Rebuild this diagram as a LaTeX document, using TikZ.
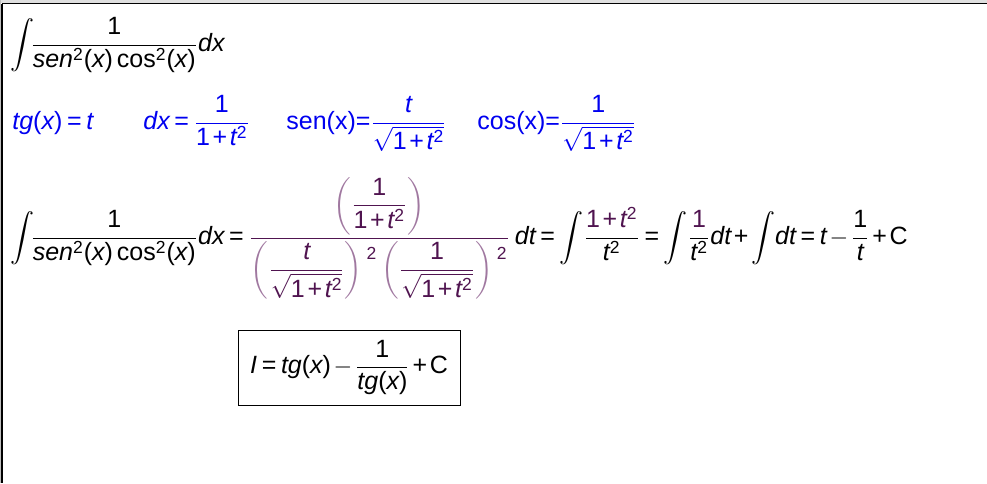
\documentclass[tikz,border=0pt]{standalone}
\usepackage{amsmath}
\usepackage[no-math]{fontspec}
\setmainfont{Liberation Sans}
% digits, signs and letters in math from the main font
\DeclareSymbolFont{operators}{TU}{\rmdefault}{m}{n}
\DeclareSymbolFont{sansit}{TU}{\rmdefault}{m}{it}
\DeclareMathSymbol{d}{\mathalpha}{sansit}{`d}
\DeclareMathSymbol{e}{\mathalpha}{sansit}{`e}
\DeclareMathSymbol{g}{\mathalpha}{sansit}{`g}
\DeclareMathSymbol{n}{\mathalpha}{sansit}{`n}
\DeclareMathSymbol{s}{\mathalpha}{sansit}{`s}
\DeclareMathSymbol{t}{\mathalpha}{sansit}{`t}
\DeclareMathSymbol{x}{\mathalpha}{sansit}{`x}
\DeclareMathSymbol{I}{\mathalpha}{sansit}{`I}
\DeclareMathSymbol{C}{\mathalpha}{operators}{`C}
\thickmuskip=3.5mu\relax
\medmuskip=2mu\relax
\definecolor{substblue}{RGB}{0,0,240}
\definecolor{fracpurple}{RGB}{80,20,80}
\definecolor{parenpurple}{RGB}{160,120,160}
\tikzset{
  formula/.style={inner sep=0pt, anchor=base west, font=\fontsize{12.5}{15}\selectfont},
  result/.style={draw, line width=0.5pt, inner sep=0pt, minimum width=111pt, minimum height=37.5pt,
    font=\fontsize{12.5}{15}\selectfont}
}
\newcommand{\pfrac}[2]{\color{parenpurple}\left(\color{fracpurple}\dfrac{#1}{#2}\color{parenpurple}\right)}
\newcommand{\upsq}{^{\raisebox{5pt}{\color{fracpurple}$\scriptstyle 2$}}}
\begin{document}
\begin{tikzpicture}[x=0.5pt,y=-0.5pt]
\useasboundingbox (0,0) rectangle (987,483);

% window frame
\fill[gray!25] (0,0) rectangle (987,3);
\fill[gray!50] (0,0) rectangle (1,483);
\draw[line width=0.6pt] (2,3.5) -- (987,3.5);
\draw[line width=0.6pt] (2,3.5) -- (2,483);

\node[formula] (integral) at (10,51) {$\displaystyle\int\!\!\frac{1}{sen^2(x)\cos^2(x)}dx$};

\node[formula,text=substblue] (tsub) at (12,129) {$tg(x)=t$};
\node[formula,text=substblue] (dxsub) at (143,129) {$\displaystyle dx=\frac{1}{1+t^2}$};
\node[formula,text=substblue] (sensub) at (286,129) {$\displaystyle\text{sen(x)=}\frac{t}{\sqrt{1+t^2}}$};
\node[formula,text=substblue] (cossub) at (477,129) {$\displaystyle\text{cos(x)=}\frac{1}{\sqrt{1+t^2}}$};

\node[formula] (lhs) at (10,244) {$\displaystyle\int\!\!\frac{1}{sen^2(x)\cos^2(x)}dx=
  {\color{fracpurple}\frac{\pfrac{1}{1+t^2}}{\pfrac{t}{\sqrt{1+t^2}}\upsq\pfrac{1}{\sqrt{1+t^2}}\upsq}}$};
\node[formula] (rhs) at ([xshift=2pt]lhs.base east) {$\displaystyle dt=\int\!\frac{\color{fracpurple}1+t^2}{t^2}=\int\!\frac{\color{fracpurple}1}{t^2}dt+\int\! dt=t-\frac{1}{t}+C$};

\node[result] (answer) at (349,367.5) {$\displaystyle I=tg(x)-\frac{1}{tg(x)}+C$};
\end{tikzpicture}
\end{document}
